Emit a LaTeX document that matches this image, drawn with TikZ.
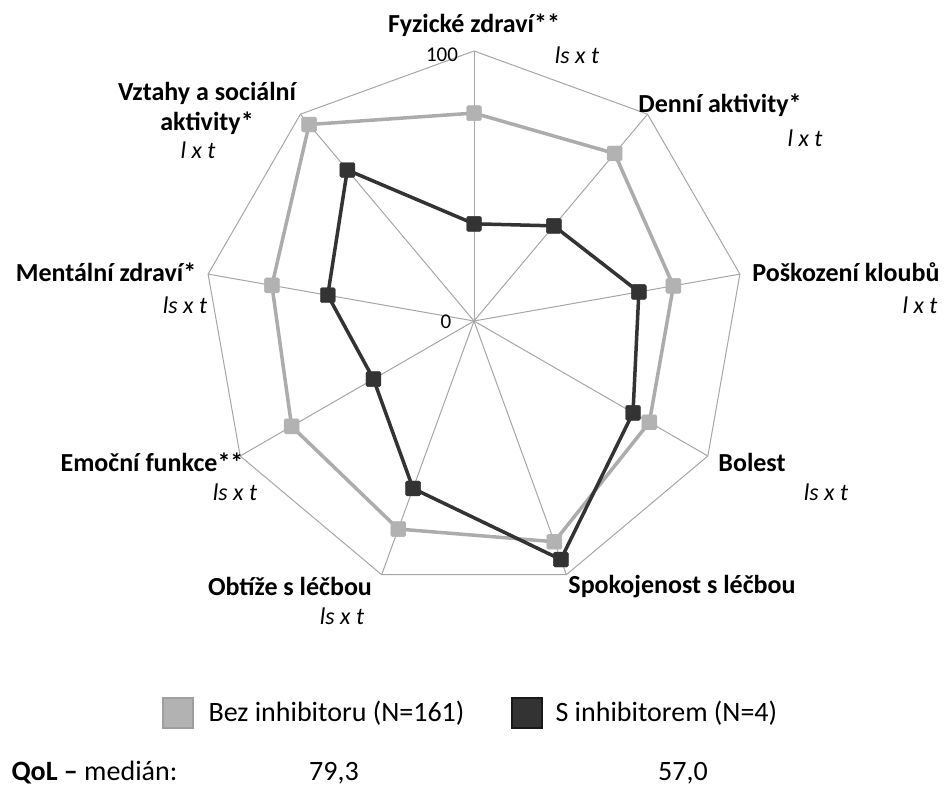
\documentclass[tikz,border=0pt]{standalone}
\usepackage{fontspec}
\setmainfont{Carlito}
\usetikzlibrary{calc}
\begin{document}
\begin{tikzpicture}[x=1pt,y=-1pt,
  lab/.style={font=\fontsize{26}{30}\selectfont\bfseries, align=center},
  sub/.style={font=\fontsize{24}{28}\selectfont\itshape},
  leg/.style={font=\fontsize{28}{32}\selectfont},
  axl/.style={font=\fontsize{21}{24}\selectfont},
  grid/.style={draw=gray!70, line width=1pt},
  gser/.style={draw=gray!65, line width=3.5pt, line join=round},
  dser/.style={draw=black!80, line width=3.5pt, line join=round},
  gmk/.style={fill=gray!60, draw=gray!60, rounded corners=1.5pt, minimum size=15pt, inner sep=0pt},
  dmk/.style={fill=black!80, draw=black!80, rounded corners=1.5pt, minimum size=15pt, inner sep=0pt}]
\useasboundingbox (0,0) rectangle (950,800);
\coordinate (c) at (474,321);
\foreach \k in {0,...,8}{
  \coordinate (o\k) at ($(c)+({90-40*\k}:270pt)$);
}
\foreach \k in {0,...,8}{ \draw[grid] (c) -- (o\k); }
\draw[grid] (o0)--(o1)--(o2)--(o3)--(o4)--(o5)--(o6)--(o7)--(o8)--cycle;
\foreach \v [count=\i from 0] in {0.77,0.81,0.75,0.75,0.87,0.82,0.78,0.76,0.95}{
  \coordinate (g\i) at ($(c)+({90-40*\i}:{270*\v*1pt})$);
}
\foreach \v [count=\i from 0] in {0.36,0.46,0.62,0.68,0.94,0.66,0.43,0.55,0.73}{
  \coordinate (d\i) at ($(c)+({90-40*\i}:{270*\v*1pt})$);
}
\draw[gser] (g0)--(g1)--(g2)--(g3)--(g4)--(g5)--(g6)--(g7)--(g8)--cycle;
\foreach \i in {0,...,8}{ \node[gmk] (gm\i) at (g\i) {}; }
\draw[dser] (d0)--(d1)--(d2)--(d3)--(d4)--(d5)--(d6)--(d7)--(d8)--cycle;
\foreach \i in {0,...,8}{ \node[dmk] (dm\i) at (d\i) {}; }
\node[axl] (t100) at (442,55) {100};
\node[axl] (t0) at (446,322) {0};
\node[lab] (l0) at (474,25) {Fyzické zdraví**};
\node[sub] (s0) at (577,55) {ls x t};
\node[lab] (l1) at (720,105) {Denní aktivity*};
\node[sub] (s1) at (805,138) {l x t};
\node[lab] (l2) at (846,272) {Poškození kloubů};
\node[sub] (s2) at (920,305) {l x t};
\node[lab] (l3) at (752,462) {Bolest};
\node[sub] (s3) at (826,492) {ls x t};
\node[lab] (l4) at (682,587) {Spokojenost s léčbou};
\node[lab] (l5) at (290,586) {Obtíže s léčbou};
\node[sub] (s5) at (342,616) {ls x t};
\node[lab] (l6) at (152,462) {Emoční funkce**};
\node[sub] (s6) at (235,492) {ls x t};
\node[lab] (l7) at (106,272) {Mentální zdraví*};
\node[sub] (s7) at (185,305) {ls x t};
\node[lab] (l8) at (207,108) {Vztahy a sociální\\aktivity*};
\node[sub] (s8) at (198,150) {l x t};
\node[fill=gray!60, draw=gray!75, line width=1.5pt, minimum size=30pt, inner sep=0pt] (lg) at (178,713) {};
\node[leg, anchor=west] (lgt) at (205,713) {Bez inhibitoru (N=161)};
\node[fill=black!80, draw=black!90, line width=1.5pt, minimum size=30pt, inner sep=0pt] (ld) at (527,713) {};
\node[leg, anchor=west] (ldt) at (552,713) {S inhibitorem (N=4)};
\node[leg, anchor=west] (q) at (8,773) {\textbf{QoL –} medián:};
\node[leg] (q1) at (334,773) {79,3};
\node[leg] (q2) at (683,773) {57,0};
\end{tikzpicture}
\end{document}
